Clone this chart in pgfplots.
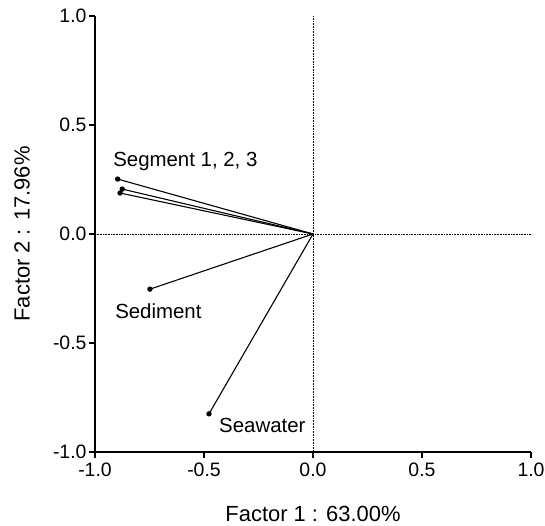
\documentclass[border=0pt]{standalone}
\usepackage{fontspec}
\setmainfont{Liberation Sans}
\usepackage{pgfplots}
\pgfplotsset{compat=1.18}

\begin{document}
\begin{tikzpicture}
\useasboundingbox (-95bp,-74bp) rectangle (450bp,452bp);
\begin{axis}[
  at={(0,0)}, anchor=south west,
  scale only axis,
  width=436bp, height=436bp,
  xmin=-1, xmax=1, ymin=-1, ymax=1,
  axis x line*=bottom, axis y line*=left,
  axis line style={line width=1.4pt, -},
  tick align=outside,
  major tick length=6bp,
  tick style={line width=1.2pt, black},
  xtick={-1,-0.5,0,0.5,1}, ytick={-1,-0.5,0,0.5,1},
  /pgf/number format/assume math mode=true,
  /pgf/number format/.cd, fixed, fixed zerofill, precision=1, /pgfplots/.cd,
  tick label style={font=\fontsize{19.5}{21}\selectfont},
  xticklabel style={yshift=-1bp},
  yticklabel style={xshift=1bp},
  clip=false,
]
  \addplot[black, densely dotted, line width=0.6pt] coordinates {(0,-1) (0,1)};
  \addplot[black, densely dotted, line width=0.6pt] coordinates {(-1,0) (1,0)};
  \pgfplotsset{vec/.style={black, line width=1.1pt, mark=*, mark size=2.1pt, mark indices={2}}}
  \addplot[vec] coordinates {(0,0) (-0.896,0.252)};
  \addplot[vec] coordinates {(0,0) (-0.875,0.206)};
  \addplot[vec] coordinates {(0,0) (-0.885,0.188)};
  \addplot[vec] coordinates {(0,0) (-0.748,-0.253)};
  \addplot[vec] coordinates {(0,0) (-0.477,-0.825)};
  \node[anchor=base west, inner sep=0pt, font=\fontsize{20.5}{22}\selectfont] at (axis cs:-0.917,0.309) {Segment 1, 2, 3};
  \node[anchor=base west, inner sep=0pt, font=\fontsize{20.5}{22}\selectfont] at (axis cs:-0.908,-0.387) {Sediment};
  \node[anchor=base west, inner sep=0pt, font=\fontsize{20.5}{22}\selectfont] at (axis cs:-0.431,-0.912) {Seawater};
\end{axis}
\node[font=\fontsize{22}{24}\selectfont] at (218bp,-62bp) {Factor 1 : 63.00\%};
\node[rotate=90, font=\fontsize{22}{24}\selectfont] at (-73bp,218bp) {Factor 2 : 17.96\%};
\end{tikzpicture}
\end{document}
